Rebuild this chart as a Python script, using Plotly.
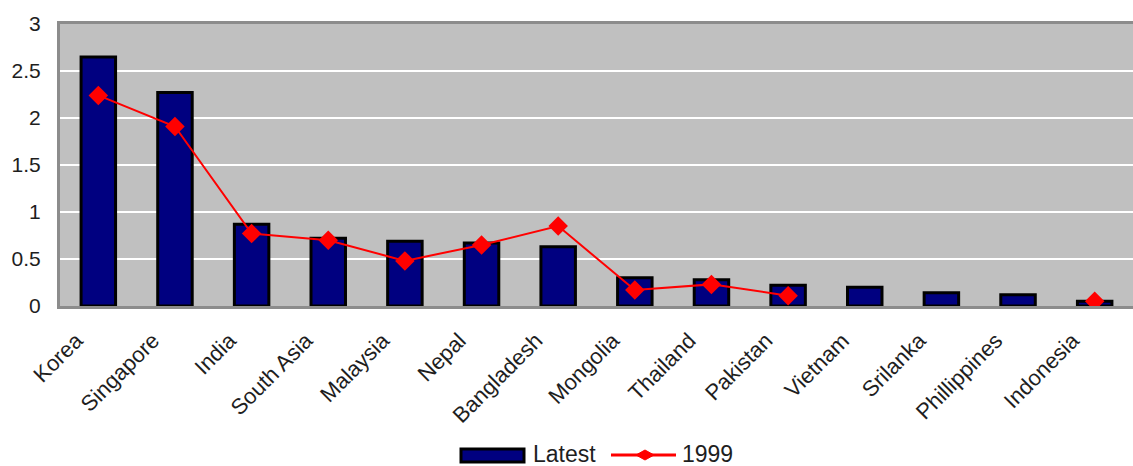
import plotly.graph_objects as go

categories = ["Korea", "Singapore", "India", "South Asia", "Malaysia", "Nepal",
              "Bangladesh", "Mongolia", "Thailand", "Pakistan", "Vietnam",
              "Srilanka", "Phillippines", "Indonesia"]
latest = [2.65, 2.27, 0.87, 0.72, 0.69, 0.67, 0.63, 0.30, 0.28, 0.22, 0.20, 0.14, 0.12, 0.05]
y1999 = [2.24, 1.91, 0.77, 0.70, 0.48, 0.65, 0.85, 0.17, 0.23, 0.11, None, None, None, 0.05]
y_ticks = [0, 0.5, 1, 1.5, 2, 2.5, 3]

W, H = 1133, 466
ML, MR, MT, MB = 60, 0, 24, 160
PW, PH = W - ML - MR, H - MT - MB


def px(x):
    return (x - ML) / PW


def py(y):
    return (H - MB - y) / PH


FONT = "Liberation Sans, Arial, sans-serif"
TXT = "#1e1e1e"

fig = go.Figure()
fig.add_trace(go.Bar(
    x=categories, y=latest, name="Latest",
    marker=dict(color="#000080", line=dict(color="#000000", width=3)),
    showlegend=False,
))
fig.add_trace(go.Scatter(
    x=categories, y=y1999, name="1999", mode="lines+markers",
    line=dict(color="#ff0000", width=2),
    marker=dict(symbol="diamond", size=15, color="#ff0000"),
    connectgaps=False, showlegend=False,
))

# custom legend (pixel positions converted to paper coords)
shapes = [
    dict(type="rect", xref="paper", yref="paper",
         x0=px(461), x1=px(524), y0=py(462), y1=py(449),
         fillcolor="#000080", line=dict(color="#000000", width=3)),
    dict(type="line", xref="paper", yref="paper",
         x0=px(611), x1=px(676), y0=py(455), y1=py(455),
         line=dict(color="#ff0000", width=3)),
    dict(type="path", xref="paper", yref="paper",
         path=(f"M {px(636)} {py(455)} L {px(645)} {py(450)} "
               f"L {px(654)} {py(455)} L {px(645)} {py(460)} Z"),
         fillcolor="#ff0000", line=dict(color="#ff0000", width=1)),
]
annotations = [
    dict(text="Latest", xref="paper", yref="paper", x=px(531), y=py(454),
         xanchor="left", yanchor="middle", showarrow=False,
         font=dict(family=FONT, size=23, color=TXT)),
    dict(text="1999", xref="paper", yref="paper", x=px(680), y=py(454),
         xanchor="left", yanchor="middle", showarrow=False,
         font=dict(family=FONT, size=23, color=TXT)),
]

fig.update_layout(
    width=W, height=H,
    margin=dict(l=ML, r=MR, t=MT, b=MB, pad=0, autoexpand=False),
    paper_bgcolor="#ffffff",
    plot_bgcolor="#c0c0c0",
    bargap=0.55,
    shapes=shapes,
    annotations=annotations,
    font=dict(family=FONT, size=22, color=TXT),
    xaxis=dict(
        type="category", tickangle=-45, showgrid=False,
        range=[-0.5, len(categories) - 0.5], automargin=False,
        showline=True, linecolor="#8c8c8c", linewidth=3, mirror=True,
        ticks="", ticklabelstandoff=10, ticklabelshift=-22,
        tickfont=dict(family=FONT, size=22, color=TXT),
    ),
    yaxis=dict(
        range=[0, 3], tickvals=y_ticks, ticktext=[str(v) for v in y_ticks],
        showgrid=True, gridcolor="#ffffff", gridwidth=2, zeroline=False,
        showline=True, linecolor="#8c8c8c", linewidth=3, automargin=False,
        ticks="", ticklabelstandoff=12,
        tickfont=dict(family=FONT, size=21, color=TXT),
    ),
)

fig.write_html("out.html")
